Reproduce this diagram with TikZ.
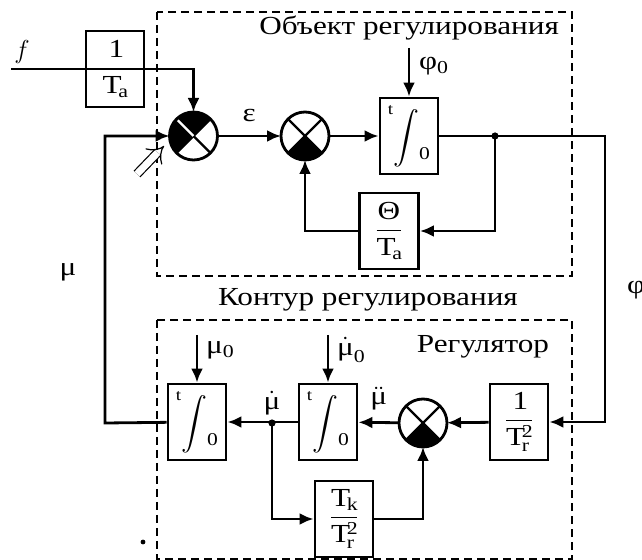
\RequirePackage{fix-cm}
\documentclass[tikz,border=0pt]{standalone}
\usepackage{amsmath}
\usepackage{graphicx}
\usepackage{fontspec}
\setmainfont{Liberation Serif}[FakeStretch=1.2]
\usetikzlibrary{arrows.meta}
\tikzset{
  blok/.style={draw, line width=1.4pt, minimum width=29pt, minimum height=38pt, inner sep=0pt},
  summa/.style={circle, draw, line width=1.4pt, minimum size=24pt, inner sep=0pt, outer sep=0pt,
    path picture={
      \foreach \a in {#1}
        \fill (path picture bounding box.center) -- ++(\a-45:13pt)
          arc[start angle=\a-45, end angle=\a+45, radius=13pt] -- cycle;
      \draw[line width=1.2pt] (path picture bounding box.center) ++(45:13pt) -- ++(225:26pt);
      \draw[line width=1.2pt] (path picture bounding box.center) ++(135:13pt) -- ++(315:26pt);
    }},
  sig/.style={line width=1.4pt, -{Latex[length=7pt,width=6pt]}},
  ramka/.style={line width=0.7pt, dash pattern=on 4pt off 2.5pt},
}
\newcommand{\integ}{\raisebox{2.6ex}{\footnotesize t}\scalebox{1.08}{$\displaystyle\int$}\raisebox{-1.2ex}{\small 0}}
\begin{document}
\begin{tikzpicture}[x=0.5pt, y=-0.5pt, font=\fontsize{13}{15}\selectfont]
  \useasboundingbox (0,0) rectangle (642,560);
  % Объект регулирования
  \draw[ramka] (157,12) rectangle (572,276);
  \node[anchor=east] (obj) at (566,28) {Объект регулирования};

  \node (flab) at (22,52) {$f$};
  \coordinate (fin) at (11,69);
  \node[blok] (Ta) at (115,69) {$\dfrac{\mathrm{1}}{\mathrm{T_a}}$};
  \node[summa={90,180}] (s1) at (193.5,136) {};
  \draw[white, line width=1.2pt, shorten >=0.9pt] (s1.center) -- (s1.135);
  \node[summa={270}] (s2) at (305,136) {};
  \node[blok] (i1) at (409,136) {\integ};
  \node[blok, minimum width=29.5pt] (th) at (389,231) {$\dfrac{\text{Θ}}{\mathrm{T_a}}$};
  \coordinate (phi0) at (409,48);
  \node[anchor=west] (phi0lab) at (412,66) {φ$_{\mathrm{0}}$};
  \coordinate (j1) at (495,136);
  \coordinate (c1) at (605,136);

  \draw[sig] (fin) -| (s1);
  \draw[sig] (s1) -- (s2) node[midway, above=3pt] (eps) {ε};
  \draw[sig] (s2) -- (i1);
  \draw[sig] (phi0) -- (i1);
  \fill (j1) circle (1.8pt);
  \draw[sig] (j1) |- (th);
  \draw[sig] (th) -| (s2);

  % входной сигнал
  \coordinate (w1) at (137,174);
  \coordinate (w2) at (164,146);
  \draw[double, double distance=3.5pt, line width=0.6pt, -{Implies[length=5pt]}] (w1) -- (w2);

  % Контур регулирования
  \node (kontur) at (368,300) {Контур регулирования};
  \node (mu) at (68,272) {μ};
  \node (phi) at (636,290) {φ};

  % Регулятор
  \draw[ramka] (157,320) rectangle (572,559);
  \node (reg) at (483,347) {Регулятор};
  \node[blok] (i2) at (197,422) {\integ};
  \node[blok] (i3) at (328,422) {\integ};
  \node[summa={270}] (s3) at (423,423) {};
  \node[blok] (rb) at (519,422) {$\dfrac{\mathrm{1}}{\mathrm{T_r^2}}$};
  \node[blok] (tk) at (344,519) {$\dfrac{\mathrm{T_k}}{\mathrm{T_r^2}}$};
  \coordinate (mu0) at (197,335);
  \coordinate (dmu0) at (328,335);
  \node[anchor=west] (mu0lab) at (199,350) {μ$_{\mathrm{0}}$};
  \node[anchor=west] (dmu0lab) at (330,350) {$\dot{\text{μ}}_{\mathrm{0}}$};
  \coordinate (j2) at (272,423);
  \coordinate (c3) at (105,423);

  \draw[sig] (i1) -- (c1) |- (rb);
  \draw[sig] (rb) -- (s3);
  \draw[sig] (s3) -- (i3) node[midway, above=2pt] (ddmu) {$\ddot{\text{μ}}$};
  \draw[sig] (i3) -- (i2);
  \node (dmu) at (272,403) {$\dot{\text{μ}}$};
  \fill (j2) circle (1.8pt);
  \draw[sig] (j2) |- (tk);
  \draw[sig] (tk) -| (s3);
  \draw[sig] (mu0) -- (i2);
  \draw[sig] (dmu0) -- (i3);
  \draw[sig] (i2) -- (c3) |- (s1);

  \fill (143,542) circle (1.2pt);
\end{tikzpicture}
\end{document}
